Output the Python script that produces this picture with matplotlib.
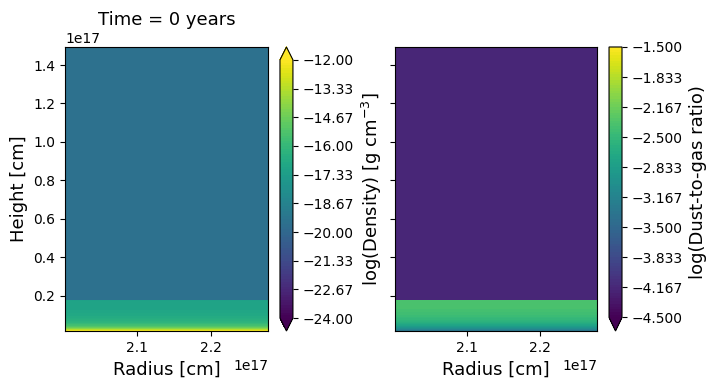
import numpy as np
import matplotlib
matplotlib.use("Agg")
import matplotlib.pyplot as plt
from matplotlib.ticker import FuncFormatter

# vertical profiles (uniform along radius)
radius = [2.003e17, 2.277e17]
height = [0.016e17, 0.022e17, 0.030e17, 0.042e17, 0.060e17, 0.090e17,
          0.130e17, 0.175e17, 0.1765e17, 1.494e17]
log_density = [-11.8, -13.0, -14.3, -15.4, -16.2, -16.7, -17.0, -17.1, -19.56, -19.56]
log_d2g = [-3.4, -3.2, -3.0, -2.8, -2.6, -2.46, -2.38, -2.35, -4.17, -4.17]

dens_levels = np.linspace(-24, -12, 100)
d2g_levels = np.linspace(-4.5, -1.5, 100)
dens_ticks = np.linspace(-24, -12, 10)
d2g_ticks = np.linspace(-4.5, -1.5, 10)


def fmt(nd):
    return FuncFormatter(lambda x, pos: f"{x:.{nd}f}".replace("-", "\u2212"))


R, Z = np.meshgrid(radius, height)
dens = np.tile(np.array(log_density)[:, None], (1, len(radius)))
d2g = np.tile(np.array(log_d2g)[:, None], (1, len(radius)))

fig = plt.figure(figsize=(7.21, 3.88), dpi=100)
ax1 = fig.add_axes([0.0902, 0.1469, 0.2816, 0.732])
cax1 = fig.add_axes([0.3883, 0.1469, 0.018, 0.732])
ax2 = fig.add_axes([0.5479, 0.1469, 0.2802, 0.732], sharey=ax1)
cax2 = fig.add_axes([0.8447, 0.1469, 0.018, 0.732])

cs1 = ax1.contourf(R, Z, dens, levels=dens_levels, cmap="viridis", extend="both")
cb1 = fig.colorbar(cs1, cax=cax1, ticks=dens_ticks, format=fmt(2))
cb1.set_label("log(Density) [g cm$^{-3}$]", fontsize=13)

cs2 = ax2.contourf(R, Z, d2g, levels=d2g_levels, cmap="viridis", extend="min")
cb2 = fig.colorbar(cs2, cax=cax2, ticks=d2g_ticks, format=fmt(3))
cb2.set_label("log(Dust-to-gas ratio)", fontsize=13)

for ax in (ax1, ax2):
    ax.set_xlim(radius[0], radius[-1])
    ax.set_xticks([2.1e17, 2.2e17])
    ax.set_xlabel("Radius [cm]", fontsize=13)
ax1.set_ylim(height[0], height[-1])
ax1.set_yticks(np.arange(0.2, 1.41, 0.2) * 1e17)
ax1.set_ylabel("Height [cm]", fontsize=13)
ax1.set_title("Time = 0 years", fontsize=13, pad=16)
ax2.tick_params(labelleft=False)
ax2.yaxis.get_offset_text().set_visible(False)

fig.savefig("out.png", dpi=100)
